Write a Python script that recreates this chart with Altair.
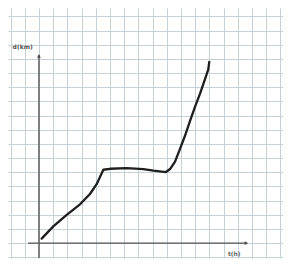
import altair as alt
import pandas as pd

# curve values (grid units from the origin)
curve_x = [0.19, 1.01, 1.95, 2.89, 3.59, 4.06, 4.53, 5.0, 6.18, 7.35, 8.05, 8.94,
           9.23, 9.58, 9.93, 10.28, 10.63, 10.99, 11.34, 11.69, 11.92, 11.99]
curve_y = [0.32, 1.18, 1.99, 2.74, 3.47, 4.16, 5.18, 5.25, 5.29, 5.23, 5.12, 5.02,
           5.23, 5.75, 6.66, 7.58, 8.61, 9.64, 10.55, 11.58, 12.26, 12.79]

grid_x = list(range(-2, 18))
grid_y = list(range(-1, 17))

x_label = "t(h)"
y_label = "d(km)"

xs = alt.Scale(domain=[-2.18, 17.18], nice=False, zero=False)
ys = alt.Scale(domain=[-1.05, 16.6], nice=False, zero=False)
axx = alt.Axis(values=grid_x, grid=True, gridColor="#c6d2d6", gridWidth=1,
               labels=False, ticks=False, domain=False, title=None)
axy = alt.Axis(values=grid_y, grid=True, gridColor="#c6d2d6", gridWidth=1,
               labels=False, ticks=False, domain=False, title=None)

curve = pd.DataFrame({"u": curve_x, "v": curve_y, "o": range(len(curve_x))})

def X(f="u"):
    return alt.X(f"{f}:Q", scale=xs, axis=axx)

def Y(f="v"):
    return alt.Y(f"{f}:Q", scale=ys, axis=axy)

line = alt.Chart(curve).mark_line(color="#1e1e1e", strokeWidth=2.3,
                                  strokeCap="round", strokeJoin="round",
                                  interpolate="linear").encode(
    x=X(), y=Y(), order="o:Q")

yaxis = alt.Chart(pd.DataFrame({"u": [0], "v": [-1.05], "v2": [13.3]})).mark_rule(
    color="#555555", strokeWidth=1.4).encode(x=X(), y=Y(), y2="v2:Q")
xaxis = alt.Chart(pd.DataFrame({"u": [-0.77], "u2": [14.65], "v": [0]})).mark_rule(
    color="#555555", strokeWidth=1.4).encode(x=X(), x2="u2:Q", y=Y())

arrow_up = alt.Chart(pd.DataFrame({"u": [0], "v": [13.2]})).mark_point(
    shape="triangle-up", filled=True, size=14, color="#444444", opacity=1).encode(x=X(), y=Y())
arrow_right = alt.Chart(pd.DataFrame({"u": [14.6], "v": [0]})).mark_point(
    shape="triangle-right", filled=True, size=14, color="#444444", opacity=1).encode(x=X(), y=Y())

ylab = alt.Chart(pd.DataFrame({"u": [-1.15], "v": [13.85], "t": [y_label]})).mark_text(
    fontSize=6, font="DejaVu Sans", fontWeight="bold", color="#555555").encode(
    x=X(), y=Y(), text="t:N")
xlab = alt.Chart(pd.DataFrame({"u": [13.75], "v": [-0.75], "t": [x_label]})).mark_text(
    fontSize=6, font="DejaVu Sans", fontWeight="bold", color="#666666").encode(
    x=X(), y=Y(), text="t:N")

chart = alt.layer(yaxis, xaxis, arrow_up, arrow_right, line, ylab, xlab).properties(
    width=275, height=251,
    autosize=alt.AutoSizeParams(type="fit", contains="padding"),
    padding=0, background="white",
).configure_view(strokeWidth=0)

chart.save("out.html", embed_options={"renderer": "svg", "actions": False})
